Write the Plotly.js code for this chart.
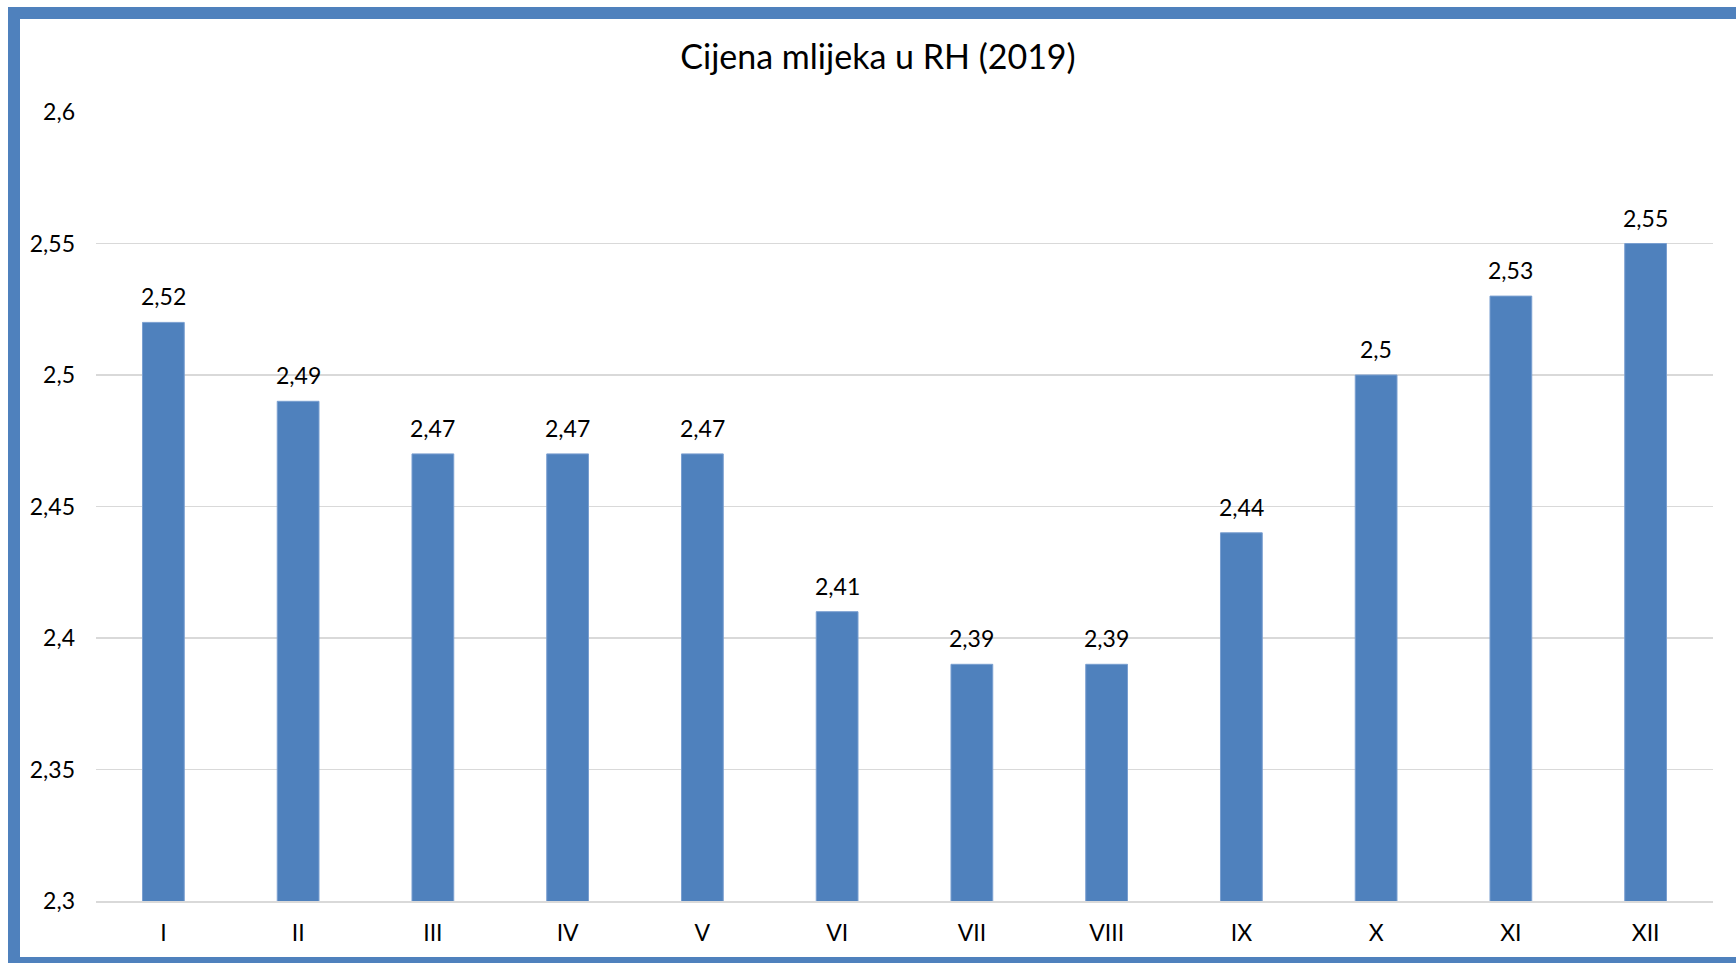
<!DOCTYPE html>
<html>
<head>
<meta charset="utf-8">
<script src="https://cdn.plot.ly/plotly-3.0.1.min.js"></script>
<style>
    html, body { margin: 0; padding: 0; background: #fff; overflow: hidden; }
    #chart {
        position: absolute;
        left: 8px;
        top: 7px;
        width: 1716px;
        height: 938px;
        border: 12px solid #4F81BD;
        background: #fff;
    }
</style>
</head>
<body>
<div id="chart"></div>
<script>
// Mjeseci i cijene mlijeka (2019)
const months = ["I", "II", "III", "IV", "V", "VI", "VII", "VIII", "IX", "X", "XI", "XII"];
const prices = [2.52, 2.49, 2.47, 2.47, 2.47, 2.41, 2.39, 2.39, 2.44, 2.5, 2.53, 2.55];
const yTickVals = [2.3, 2.35, 2.4, 2.45, 2.5, 2.55, 2.6];
const yTickText = ["2,3", "2,35", "2,4", "2,45", "2,5", "2,55", "2,6"];

const fontFamily = "Lato, 'Open Sans', sans-serif";
const toLabel = v => String(v).replace(".", ",");

const barTrace = {
    type: "bar",
    x: months,
    y: prices,
    marker: {color: "#4F81BD", line: {color: "#7A9FD0", width: 1}},
    hoverinfo: "x+y"
};

// oznake vrijednosti iznad stupaca
const labels = months.map((m, i) => ({
    x: m,
    y: prices[i],
    text: toLabel(prices[i]),
    showarrow: false,
    xanchor: "center",
    yanchor: "bottom",
    yshift: 10,
    font: {family: fontFamily, size: 23, color: "#000"}
}));

const layout = {
    width: 1716,
    height: 938,
    margin: {l: 76, r: 23, t: 93, b: 56},
    paper_bgcolor: "#fff",
    plot_bgcolor: "#fff",
    showlegend: false,
    bargap: 0.69,
    title: {
        text: "Cijena mlijeka u RH (2019)",
        font: {family: fontFamily, size: 34, color: "#000"},
        x: 0.5,
        xanchor: "center",
        y: 1 - 38 / 938,
        yanchor: "middle"
    },
    xaxis: {
        type: "category",
        showgrid: false,
        showline: true,
        linecolor: "#D9D9D9",
        linewidth: 1.5,
        ticks: "",
        ticklabelstandoff: 11,
        tickfont: {family: fontFamily, size: 23, color: "#000"}
    },
    yaxis: {
        range: [2.3, 2.6],
        tickvals: yTickVals,
        ticktext: yTickText,
        showgrid: true,
        gridcolor: "#D9D9D9",
        gridwidth: 1.5,
        zeroline: false,
        ticks: "",
        ticklabelstandoff: 20,
        tickfont: {family: fontFamily, size: 23, color: "#000"}
    },
    annotations: labels
};

Plotly.newPlot("chart", [barTrace], layout, {displayModeBar: false, staticPlot: true});
</script>
</body>
</html>
